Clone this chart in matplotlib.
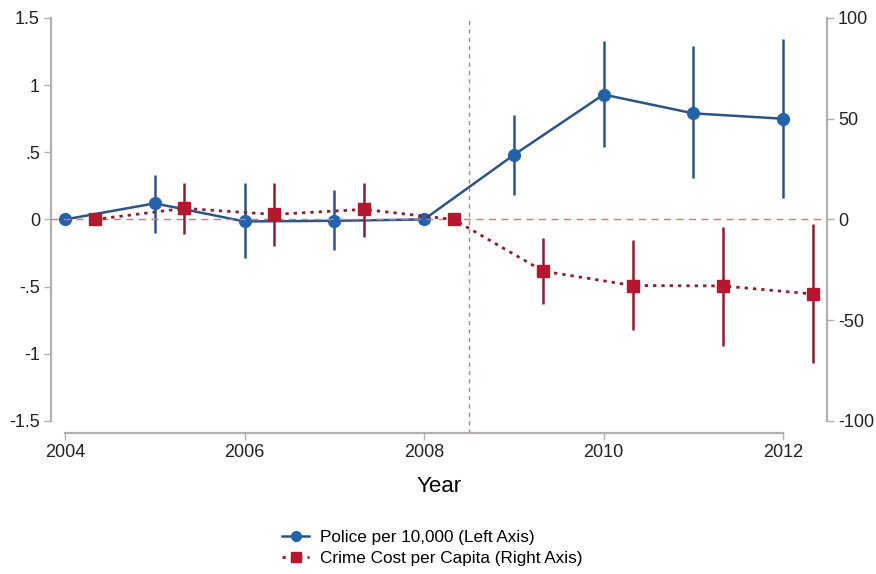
import numpy as np
import matplotlib.pyplot as plt
from matplotlib.lines import Line2D

plt.rcParams['font.family'] = ['Liberation Sans', 'DejaVu Sans']
plt.rcParams['axes.unicode_minus'] = False

years = [2004, 2005, 2006, 2007, 2008, 2009, 2010, 2011, 2012]

# police per 10,000 (left axis)
police = [0.0, 0.12, -0.015, -0.01, 0.0, 0.48, 0.93, 0.79, 0.75]
police_lo = [0.0, -0.10, -0.29, -0.23, 0.0, 0.18, 0.54, 0.31, 0.16]
police_hi = [0.0, 0.33, 0.27, 0.22, 0.0, 0.78, 1.33, 1.29, 1.34]

# crime cost per capita (right axis)
crime = [0.0, 5.5, 2.5, 5.0, 0.0, -25.7, -32.8, -33.0, -37.0]
crime_lo = [0.0, -7.0, -13.0, -8.5, 0.0, -42.0, -55.0, -63.0, -71.5]
crime_hi = [0.0, 18.0, 18.0, 18.0, 0.0, -9.3, -10.0, -3.5, -2.5]

shift = 0.33
treat_line = 2008.5

blue = '#2463aa'
blue_dark = '#2d5488'
red = '#b5172e'
red_dark = '#8c1f2e'
grey = '#b0b0b0'

fig = plt.figure(figsize=(8.76, 5.74), dpi=100)
ax = fig.add_axes([51 / 876, 1 - 433 / 574, (827 - 51) / 876, (433 - 18) / 574])
ax2 = ax.twinx()

ax.set_xlim(2003.844, 2012.49)
ax.set_ylim(-1.59, 1.5)
ax2.set_ylim(-106, 100)

x = np.array(years, dtype=float)
xr = x + shift

# reference lines
ax2.axhline(0, color='#d9707a', lw=1, ls=(0, (5, 4)), zorder=1)
ax2.plot([treat_line, treat_line], [-106, 100], color='#d9707a', lw=1, ls=(0, (3, 3)), zorder=1)

# police series
p = np.array(police)
perr = [p - np.array(police_lo), np.array(police_hi) - p]
ax.errorbar(x, p, yerr=perr, fmt='none', ecolor=blue_dark, elinewidth=1.8, capsize=0, zorder=2)
ax.plot(x, p, color=blue_dark, lw=1.8, marker='o', ms=8.5, mfc=blue, mec=blue, zorder=3)

# crime series
c = np.array(crime)
cerr = [c - np.array(crime_lo), np.array(crime_hi) - c]
ax2.errorbar(xr, c, yerr=cerr, fmt='none', ecolor=red_dark, elinewidth=1.8, capsize=0, zorder=2)
ax2.plot(xr, c, color=red_dark, lw=2, ls=(0, (1.2, 1.8)), marker='s', ms=8.5,
         mfc=red, mec=red, zorder=3)

# axes styling
ax.set_xticks([2004, 2006, 2008, 2010, 2012])
ax.set_yticks([-1.5, -1, -0.5, 0, 0.5, 1, 1.5])
ax.set_yticklabels(['-1.5', '-1', '-.5', '0', '.5', '1', '1.5'])
ax2.set_yticks([-100, -50, 0, 50, 100])

for a in (ax, ax2):
    a.spines['top'].set_visible(False)
    for s in a.spines.values():
        s.set_color(grey)
        s.set_linewidth(1.6)
    a.tick_params(colors=grey, labelcolor='#222222', labelsize=13, length=5, width=1, pad=3)
ax.spines['right'].set_visible(False)
ax2.spines['left'].set_visible(False)
ax2.spines['bottom'].set_visible(False)
ax.spines['left'].set_bounds(-1.5, 1.5)
ax.spines['bottom'].set_bounds(2004, 2012)
ax2.spines['right'].set_bounds(-100, 100)
ax.set_xlabel('Year', fontsize=16, labelpad=11)

handles = [
    Line2D([], [], color=blue_dark, lw=1.8, marker='o', ms=7, mfc=blue, mec=blue),
    Line2D([], [], color=red_dark, lw=2, ls=(0, (1.2, 1.8)), marker='s', ms=7, mfc=red, mec=red),
]
fig.legend(handles, ['Police per 10,000 (Left Axis)', 'Crime Cost per Capita (Right Axis)'],
           loc='center', bbox_to_anchor=(432 / 876, 1 - 548 / 574), frameon=False,
           fontsize=12.3, handlelength=1.6, handletextpad=0.6, labelspacing=0.35)

fig.savefig('out.png', dpi=100)
